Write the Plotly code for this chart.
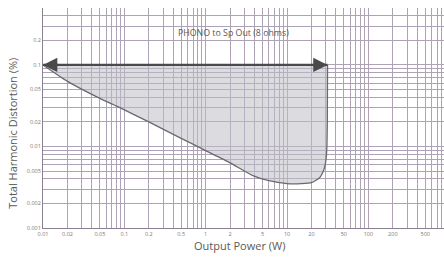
import plotly.graph_objects as go
import numpy as np

# Data
power_w = [0.01, 0.02, 0.05, 0.088, 0.2, 0.5, 1, 2, 3.8, 6, 10, 15, 20, 25, 27.5, 29.5, 30.8, 31.3, 31.5]
thd_pct = [0.1, 0.063, 0.039, 0.030, 0.020, 0.0126, 0.0089, 0.0063, 0.0044, 0.0038, 0.0035, 0.0035, 0.0036, 0.0041, 0.0048, 0.006, 0.009, 0.02, 0.1]
arrow_range_w = [0.01, 31.5]
arrow_level_pct = 0.1

x_tick_vals = [m * 10.0 ** e for e in range(-2, 3) for m in range(1, 10)]
x_tick_labels = ["0.01", "0.02", "0.05", "0.1", "0.2", "0.5", "1", "2", "5", "10", "20", "50", "100", "200", "500"]
y_tick_vals = [m * 10.0 ** e for e in range(-3, 0) for m in range(1, 10)]
y_tick_labels = ["0.001", "0.002", "0.005", "0.01", "0.02", "0.05", "0.1", "0.2"]

def fmt(v):
    return ("%.4f" % v).rstrip("0").rstrip(".")

x_text = [fmt(v) if fmt(v) in x_tick_labels else "" for v in x_tick_vals]
y_text = [fmt(v) if fmt(v) in y_tick_labels else "" for v in y_tick_vals]

grid_col = "#ada3b5"
txt_col = "#5a5a5a"

fig = go.Figure()
fig.add_trace(go.Scatter(
    x=power_w, y=thd_pct, mode="lines", fill="toself",
    fillcolor="rgba(190,190,198,0.55)",
    line=dict(color="#6a6a6e", width=1.3, shape="spline", smoothing=0.5),
    hoverinfo="skip", showlegend=False,
))
# arrow shaft
fig.add_trace(go.Scatter(
    x=arrow_range_w, y=[arrow_level_pct, arrow_level_pct], mode="lines",
    line=dict(color="#4a4a4a", width=2.2), hoverinfo="skip", showlegend=False,
))

# arrowheads
for i, end in enumerate(arrow_range_w):
    tail = np.log10(end) + (0.2 if i == 0 else -0.2)
    fig.add_annotation(
        x=np.log10(end), y=np.log10(arrow_level_pct),
        ax=tail, ay=np.log10(arrow_level_pct),
        xref="x", yref="y", axref="x", ayref="y",
        showarrow=True, arrowhead=2, arrowsize=1.1, arrowwidth=2.6,
        arrowcolor="#4a4a4a", standoff=0, text="",
    )

fig.add_annotation(
    x=np.log10(2.2), y=np.log10(0.245), xref="x", yref="y",
    text="PHONO to Sp Out (8 ohms)", showarrow=False,
    font=dict(family="Open Sans", size=8.8, color=txt_col),
)
fig.add_annotation(
    x=0.49, y=-0.035, xref="paper", yref="paper", yanchor="top",
    text="Output Power (W)", showarrow=False,
    font=dict(family="Open Sans", size=11, color=txt_col),
)
fig.add_annotation(
    x=-0.1, y=0.43, xref="paper", yref="paper", textangle=-90,
    text="Total Harmonic Distortion (%)", showarrow=False,
    font=dict(family="Open Sans", size=11, color=txt_col),
)

axis_common = dict(
    type="log", showgrid=True, gridcolor=grid_col, gridwidth=1,
    showline=True, linecolor="#8a8090", linewidth=1,
    ticks="", zeroline=False, automargin=False,
    tickfont=dict(family="Open Sans", size=5.5, color="#777777"),
)

fig.update_xaxes(
    **axis_common, range=[-2, 2.93], tickmode="array",
    tickvals=x_tick_vals, ticktext=x_text, ticklabelstandoff=0,
)
fig.update_yaxes(
    **axis_common, range=[-3, np.log10(0.5)], tickmode="array",
    tickvals=y_tick_vals, ticktext=y_text,
)

fig.update_layout(
    width=444, height=257,
    margin=dict(l=43, r=0, t=8, b=29),
    paper_bgcolor="#ffffff", plot_bgcolor="#ffffff",
)

fig.write_html(
    "out.html",
    config={"displayModeBar": False},
    post_script="document.body.style.margin='0';document.body.style.overflow='hidden';",
)
